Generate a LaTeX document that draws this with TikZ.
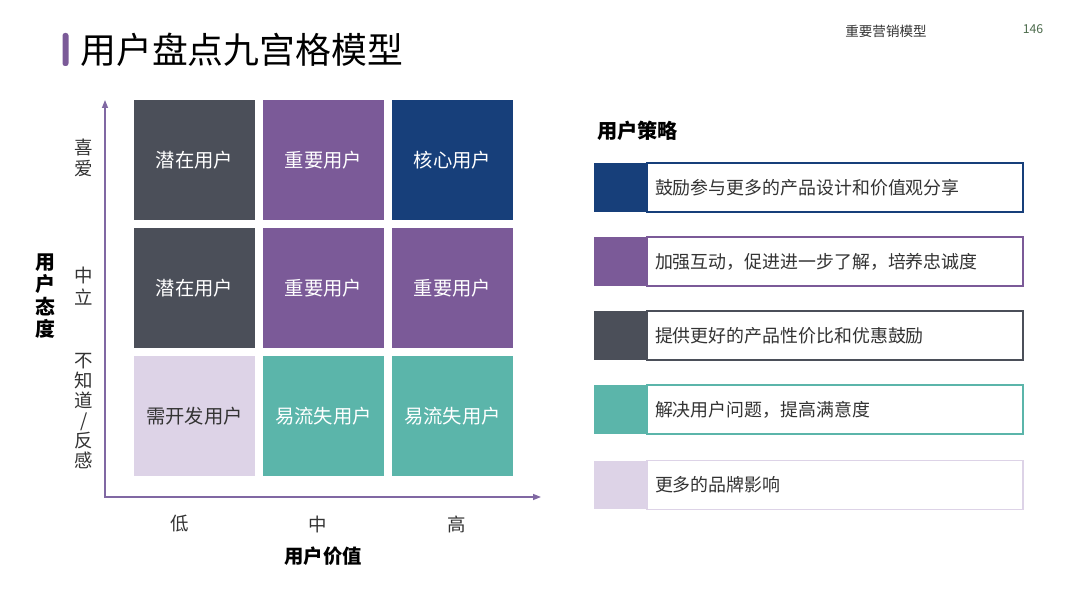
\documentclass[tikz,border=0pt]{standalone}
\usepackage{fontspec}
\setmainfont{Noto Sans CJK SC}
\usetikzlibrary{arrows.meta,positioning}

\definecolor{cellgray}{HTML}{4B4F59}
\definecolor{cellpurple}{HTML}{7B5A98}
\definecolor{cellnavy}{HTML}{173F7A}
\definecolor{cellteal}{HTML}{5BB5AA}
\definecolor{celllilac}{HTML}{DDD3E7}
\definecolor{axispurple}{HTML}{8068A3}
\definecolor{inkgray}{HTML}{333333}

\tikzset{
  cell/.style={minimum width=2.42cm, minimum height=2.4cm, inner sep=0pt, text=white, font=\fontsize{11}{13}\selectfont},
  swatch/.style={minimum width=1.04cm, minimum height=0.98cm, inner sep=0pt},
  strat/.style={draw=#1, line width=0.9pt, fill=white, minimum height=0.98cm, text width=7.2cm, inner xsep=0.16cm, align=left, text=inkgray, font=\fontsize{10.2}{12}\selectfont},
  ticklab/.style={text=inkgray, align=center, font=\fontsize{10.5}{12.2}\selectfont},
  axis/.style={axispurple, line width=0.8pt}
}

\begin{document}
\begin{tikzpicture}[x=0.02cm, y=-0.02cm]
\useasboundingbox (0,0) rectangle (1080,608);
% header
\fill[cellpurple, rounded corners=0.05cm] (62.5,33) rectangle (68.5,66);
\node[anchor=west, inner sep=0pt, font=\fontsize{20.4}{24}\selectfont] (title) at (80,50) {用户盘点九宫格模型};
\node[inner sep=0pt, text=inkgray, font=\fontsize{7.7}{9}\selectfont] (section) at (886,31) {重要营销模型};
\node[inner sep=0pt, text=black!70!green!40!gray, font=\fontsize{7}{8}\itshape] (page) at (1033,29) {146};

% nine cells
\node[cell, fill=cellgray] (c11) at (194.5,160) {潜在用户};
\node[cell, fill=cellpurple] (c12) at (323.5,160) {重要用户};
\node[cell, fill=cellnavy] (c13) at (452.5,160) {核心用户};
\node[cell, fill=cellgray] (c21) at (194.5,288) {潜在用户};
\node[cell, fill=cellpurple] (c22) at (323.5,288) {重要用户};
\node[cell, fill=cellpurple] (c23) at (452.5,288) {重要用户};
\node[cell, fill=celllilac, text=inkgray] (c31) at (194.5,416) {需开发用户};
\node[cell, fill=cellteal] (c32) at (323.5,416) {易流失用户};
\node[cell, fill=cellteal] (c33) at (452.5,416) {易流失用户};

% axes
\coordinate (O) at (105,497); \coordinate (ytop) at (105,100); \coordinate (xend) at (541,497);
\draw[axis, {Triangle[length=0.16cm,width=0.12cm]}-{Triangle[length=0.16cm,width=0.12cm]}] (ytop) -- (O) -- (xend);
\node[ticklab] (ylove) at (84,158) {喜\\爱};
\node[ticklab] (ymid) at (84,286) {中\\立};
\node[ticklab, font=\fontsize{10.5}{11.4}\selectfont] (ylow) at (84,411) {不\\知\\道\\/\\反\\感};
\node[align=center, font=\bfseries\fontsize{11.3}{12.8}\selectfont] (ytitle) at (45,296) {用\\户\\态\\度};
\node[ticklab] (xlow) at (180,524) {低};
\node[ticklab] (xmid) at (318,524) {中};
\node[ticklab] (xhigh) at (457,524) {高};
\node[font=\bfseries\fontsize{11}{13}\selectfont] (xtitle) at (323,556) {用户价值};

% strategies
\node[anchor=west, inner sep=0pt, font=\bfseries\fontsize{11.5}{13}\selectfont] (stitle) at (597,131) {用户策略};
\node[strat=cellnavy] (s1) at (835,187.5) {鼓励参与更多的产品设计和价值观分享};
\node[strat=cellpurple] (s2) at (835,261.5) {加强互动，促进进一步了解，培养忠诚度};
\node[strat=cellgray] (s3) at (835,335.5) {提供更好的产品性价比和优惠鼓励};
\node[strat=cellteal] (s4) at (835,409.5) {解决用户问题，提高满意度};
\node[strat=celllilac] (s5) at (835,485) {更多的品牌影响};
\node[swatch, fill=cellnavy, left=0pt of s1.west] (q1) {};
\node[swatch, fill=cellpurple, left=0pt of s2.west] (q2) {};
\node[swatch, fill=cellgray, left=0pt of s3.west] (q3) {};
\node[swatch, fill=cellteal, left=0pt of s4.west] (q4) {};
\node[swatch, fill=celllilac, left=0pt of s5.west] (q5) {};
\end{tikzpicture}
\end{document}
